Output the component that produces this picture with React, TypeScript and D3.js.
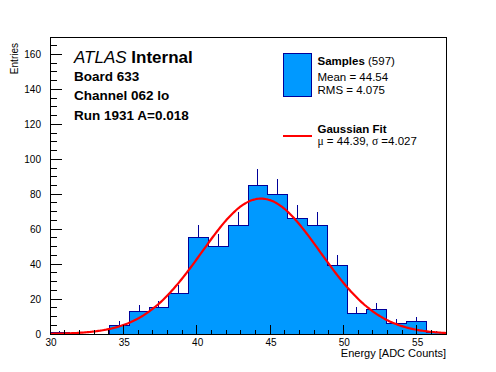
import React from "react";
import * as d3 from "d3";

// histogram: 20 bins from 30 to 57 ADC counts
const xRange = [30, 57];
const counts = [1, 0, 0, 5, 13, 15, 23, 55, 50, 62, 85, 80, 66, 62, 39, 12, 14, 6, 7, 1];
const xTickLabels = [30, 35, 40, 45, 50, 55];
const yTickLabels = [0, 20, 40, 60, 80, 100, 120, 140, 160];
const yMax = 170;

const fitConstant = 77.5;
const fitMean = 44.39;
const fitSigma = 4.027;

const headerLines = ["Board 633", "Channel 062 lo", "Run 1931 A=0.018"];

const W = 496;
const H = 372;
const left = 50;
const right = 446;
const top = 37;
const bottom = 334;

const FILL = "#0099ff";
const EDGE = "#000099";
const FONT = "'Liberation Sans', Arial, Helvetica, sans-serif";

const App = () => {
  const x = d3.scaleLinear().domain(xRange).range([left, right]);
  const y = d3.scaleLinear().domain([0, yMax]).range([bottom, top]);

  const binW = (xRange[1] - xRange[0]) / counts.length;
  const bins = counts.map((c, i) => ({
    lo: xRange[0] + i * binW,
    hi: xRange[0] + (i + 1) * binW,
    c,
  }));

  // staircase outline
  const pts: [number, number][] = [[x(xRange[0]), y(0)]];
  bins.forEach((b) => {
    pts.push([x(b.lo), y(b.c)]);
    pts.push([x(b.hi), y(b.c)]);
  });
  pts.push([x(xRange[1]), y(0)]);
  const histPath = d3.line()(pts) as string;

  const gauss = (v: number) =>
    fitConstant * Math.exp(-0.5 * ((v - fitMean) / fitSigma) ** 2);
  const fitPath = d3
    .line<number>()
    .x((v) => x(v))
    .y((v) => y(gauss(v)))
    .curve(d3.curveMonotoneX)(d3.range(xRange[0], xRange[1] + 0.001, 0.1)) as string;

  const xMinor = d3.range(xRange[0], xRange[1] + 0.001, 1);
  const yMinor = d3.range(0, yMax + 0.001, 5);

  return (
    <svg
      width={W}
      height={H}
      style={{ position: "absolute", left: 0, top: 0, background: "#fff" }}
      fontFamily={FONT}
    >
      {/* histogram */}
      <path d={histPath} fill={FILL} stroke={EDGE} strokeWidth={1} shapeRendering="crispEdges" />
      {bins
        .filter((b) => b.c > 0)
        .map((b, i) => (
          <line
            key={"e" + i}
            x1={x((b.lo + b.hi) / 2)}
            x2={x((b.lo + b.hi) / 2)}
            y1={y(b.c)}
            y2={y(b.c + Math.sqrt(b.c))}
            stroke={EDGE}
            strokeWidth={1}
            shapeRendering="crispEdges"
          />
        ))}

      {/* fit */}
      <path d={fitPath} fill="none" stroke="#ff0000" strokeWidth={2.2} />

      {/* frame + ticks */}
      <rect
        x={left}
        y={top}
        width={right - left}
        height={bottom - top}
        fill="none"
        stroke="#000"
        shapeRendering="crispEdges"
      />
      <g stroke="#000" shapeRendering="crispEdges">
        {xMinor.map((v) => (
          <line
            key={"xt" + v}
            x1={x(v)}
            x2={x(v)}
            y1={bottom}
            y2={bottom - (v % 5 === 0 ? 9 : 4.5)}
          />
        ))}
        {yMinor.map((v) => (
          <line
            key={"yt" + v}
            x1={left}
            x2={left + (v % 20 === 0 ? 12 : 6.5)}
            y1={y(v)}
            y2={y(v)}
          />
        ))}
      </g>
      <g fontSize={10} fill="#000">
        {xTickLabels.map((v) => (
          <text key={"xl" + v} x={x(v) + 1} y={346} textAnchor="middle">
            {v}
          </text>
        ))}
        {yTickLabels.map((v) => (
          <text key={"yl" + v} x={41} y={y(v) + 4} textAnchor="end">
            {v}
          </text>
        ))}
      </g>
      <text x={right} y={356.5} fontSize={11} textAnchor="end">
        Energy [ADC Counts]
      </text>
      <text
        transform="translate(17.5,43) rotate(-90)"
        fontSize={10}
        textAnchor="end"
      >
        Entries
      </text>

      {/* header */}
      <text x={74} y={63.3} fontSize={17}>
        <tspan fontStyle="italic">ATLAS</tspan>
        <tspan fontWeight="bold"> Internal</tspan>
      </text>
      {headerLines.map((t, i) => (
        <text key={t} x={74} y={81 + i * 19.3} fontSize={13.5} fontWeight="bold">
          {t}
        </text>
      ))}

      {/* legend */}
      <rect x={283.5} y={53.5} width={28} height={43} fill={FILL} stroke={EDGE} shapeRendering="crispEdges" />
      <text x={317.5} y={65.3} fontSize={11.5}>
        <tspan fontWeight="bold">Samples</tspan>
        <tspan> (597)</tspan>
      </text>
      <text x={317.5} y={81} fontSize={11.5}>
        Mean = 44.54
      </text>
      <text x={317.5} y={93.7} fontSize={11.5}>
        RMS = 4.075
      </text>
      <line x1={283} x2={312} y1={136} y2={136} stroke="#ff0000" strokeWidth={2} />
      <text x={317.5} y={133.3} fontSize={11.5} fontWeight="bold">
        Gaussian Fit
      </text>
      <text x={317.5} y={144.5} fontSize={11.5}>
        <tspan fontFamily="'Liberation Serif', serif">μ</tspan>
        <tspan> = 44.39, </tspan>
        <tspan fontFamily="'Liberation Serif', serif">σ</tspan>
        <tspan> =4.027</tspan>
      </text>
    </svg>
  );
};

export default App;
